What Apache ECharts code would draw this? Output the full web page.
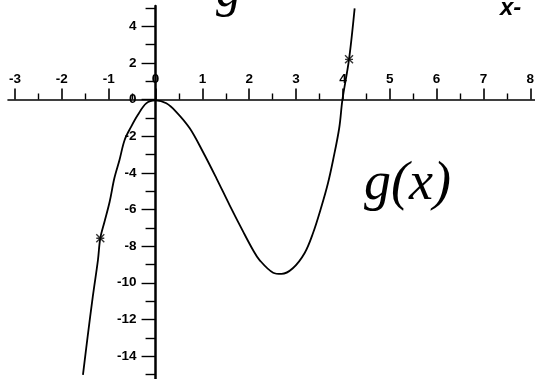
<!DOCTYPE html>
<html>
<head>
<meta charset="utf-8">
<script src="https://cdn.jsdelivr.net/npm/echarts@6/dist/echarts.min.js"></script>
<style>
  html, body { margin: 0; padding: 0; background: #fff; }
  #chart { width: 535px; height: 379px; }
</style>
</head>
<body>
<div id="chart"></div>
<script>
// Points along the sketched curve g(x)
const curveX = [-1.55, -1.45, -1.34, -1.23, -1.18, -1.09, -0.98, -0.88, -0.77, -0.66, -0.52, -0.38, -0.20, 0,
  0.23, 0.44, 0.73, 1.01, 1.30, 1.58, 1.87, 2.08, 2.22, 2.51, 2.69, 2.93, 3.18, 3.36, 3.54, 3.68, 3.79, 3.92, 3.99, 4.13, 4.25];
const curveY = [-15.03, -12.94, -10.76, -8.76, -7.57, -6.67, -5.58, -4.30, -3.30, -2.21, -1.48, -0.85, -0.21, -0.05,
  -0.21, -0.67, -1.57, -2.85, -4.30, -5.76, -7.21, -8.21, -8.76, -9.45, -9.52, -9.21, -8.39, -7.30, -5.85, -4.57, -3.30, -1.57, 0, 2.19, 4.97];

// Points marked with a small star on the curve
const markX = [-1.18, 4.13];
const markY = [-7.57, 2.19];

// Axis ticks
const xLabelValues = [-3, -2, -1, 0, 1, 2, 3, 4, 5, 6, 7, 8];
const xHalfValues = [-2.5, -1.5, -0.5, 0.5, 1.5, 2.5, 3.5, 4.5, 5.5, 6.5, 7.5];
const yLabelValues = [-14, -12, -10, -8, -6, -4, -2, 0, 2, 4];
const yOddValues = [-15, -13, -11, -9, -7, -5, -3, -1, 1, 3, 5];

const X_MIN = -3.15, X_MAX = 8.1, Y_MIN = -15.25, Y_MAX = 5.1;

// Plot area and where the axes cross (x = 0, y = 0)
const W = 535, H = 379;
const G = { left: 8, right: 0, top: 6, bottom: 0 };
const gw = W - G.left - G.right, gh = H - G.top - G.bottom;
const zeroFromLeft = (0 - X_MIN) / (X_MAX - X_MIN) * gw;
const zeroFromTop = (Y_MAX - 0) / (Y_MAX - Y_MIN) * gh;

const ink = '#000';
const labelFont = { color: ink, fontFamily: 'Liberation Sans', fontWeight: 'bold', fontSize: 13.5 };

const chart = echarts.init(document.getElementById('chart'), null, { renderer: 'canvas' });

chart.setOption({
  backgroundColor: '#fff',
  animation: false,
  grid: Object.assign({ containLabel: false, outerBoundsMode: 'none' }, G),
  xAxis: [
    {
      type: 'value', min: X_MIN, max: X_MAX, position: 'top', offset: -zeroFromTop,
      axisLine: { onZero: false, lineStyle: { color: ink, width: 1.6 } },
      axisTick: { inside: false, length: 11, customValues: xLabelValues, lineStyle: { color: ink, width: 1.6 } },
      axisLabel: Object.assign({ margin: 13, customValues: xLabelValues }, labelFont),
      splitLine: { show: false }
    },
    {
      type: 'value', min: X_MIN, max: X_MAX, position: 'bottom', offset: -(gh - zeroFromTop),
      axisLine: { show: false, onZero: false },
      axisTick: { inside: true, length: 6, customValues: xHalfValues, lineStyle: { color: ink, width: 1.4 } },
      axisLabel: { show: false },
      splitLine: { show: false }
    }
  ],
  yAxis: [
    {
      type: 'value', min: Y_MIN, max: Y_MAX, position: 'left', offset: -zeroFromLeft,
      axisLine: { show: true, onZero: false, lineStyle: { color: ink, width: 2.5 } },
      axisTick: { show: true, length: 14, customValues: yLabelValues, lineStyle: { color: ink, width: 1.4 } },
      axisLabel: Object.assign({ margin: 19, customValues: yLabelValues }, labelFont),
      splitLine: { show: false }
    },
    {
      type: 'value', min: Y_MIN, max: Y_MAX, position: 'right', offset: -(gw - zeroFromLeft),
      axisLine: { show: false, onZero: false },
      axisTick: { show: true, inside: true, length: 10, customValues: yOddValues, lineStyle: { color: ink, width: 1.4 } },
      axisLabel: { show: false },
      splitLine: { show: false }
    }
  ],
  series: [
    {
      type: 'line', xAxisIndex: 0, yAxisIndex: 0,
      data: curveX.map((x, i) => [x, curveY[i]]),
      smooth: 0.35, showSymbol: false, clip: false,
      lineStyle: { color: ink, width: 1.8 }
    },
    {
      type: 'scatter', xAxisIndex: 0, yAxisIndex: 0,
      data: markX.map((x, i) => [x, markY[i]]),
      symbol: 'path://M0,0L10,10M10,0L0,10M0,5L10,5',
      symbolSize: 8,
      itemStyle: { color: 'none', borderColor: ink, borderWidth: 1.4 }
    }
  ],
  graphic: [
    { type: 'text', left: 364, top: 158,
      style: { text: 'g(x)', fill: ink, font: 'italic 54px "Liberation Serif"' } },
    { type: 'text', left: 216, top: -32,
      style: { text: 'g', fill: ink, font: 'italic 50px "Liberation Serif"' } },
    { type: 'text', left: 500, top: -4,
      style: { text: 'x-', fill: ink, font: 'italic bold 24px "Liberation Sans"' } }
  ]
});
</script>
</body>
</html>
